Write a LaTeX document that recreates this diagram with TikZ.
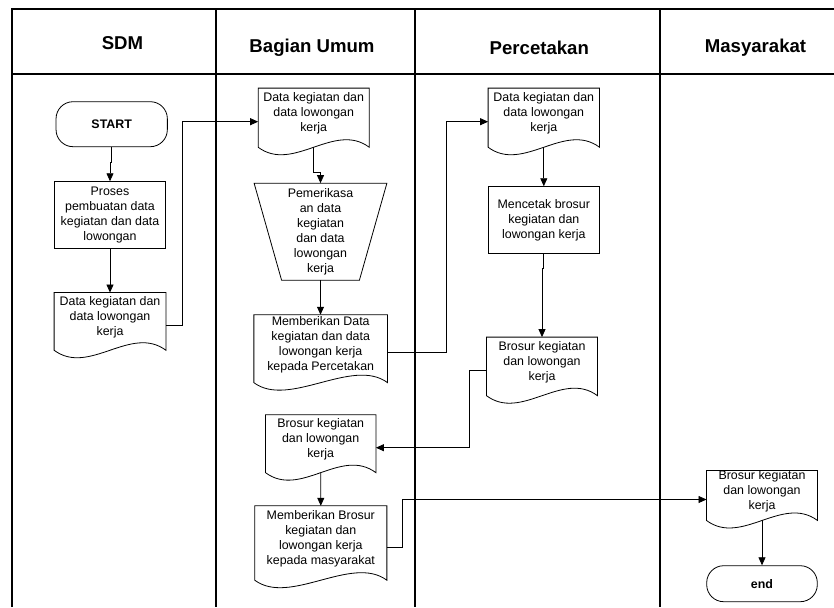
\documentclass[tikz,border=0pt]{standalone}
\usepackage{fontspec}
\setmainfont{Liberation Sans}
\usetikzlibrary{arrows.meta}

\begin{document}
\begin{tikzpicture}[x=1pt,y=-1pt,
	lane/.style={line width=1.8pt},
	hdr/.style={font=\fontsize{18.6}{22}\selectfont\bfseries},
	txt/.style={font=\fontsize{12.4}{15}\selectfont, align=center, inner sep=0pt},
	proc/.style={txt, draw, line width=0.8pt},
	term/.style={txt, draw, line width=0.8pt, rounded corners=17pt, font=\fontsize{12.4}{15}\selectfont\bfseries},
	doc/.style={txt},
	shp/.style={line width=0.8pt},
	arr/.style={line width=0.8pt, -{Triangle[length=8pt,width=7pt]}}]
	\useasboundingbox (0,0) rectangle (834,607);

	% lanes
	\draw[lane] (12,607) -- (12,9) -- (834,9);
	\draw[lane] (12,74) -- (834,74);
	\foreach \x in {216,415,660}
		\draw[lane] (\x,9) -- (\x,607);

	\node[hdr] (hsdm) at (122.5,43) {SDM};
	\node[hdr] (hbu) at (312,48) {Bagian Umum};
	\node[hdr] (hpc) at (539.3,48) {Percetakan};
	\node[hdr] (hms) at (755.5,48) {Masyarakat};

	% SDM
	\node[term, minimum width=111.3pt, minimum height=45pt] (start) at (111.7,124.2) {START};
	\node[proc, minimum width=111.3pt, minimum height=66.7pt] (sd1) at (110,215) {Proses\\pembuatan data\\kegiatan dan data\\lowongan};
	\node[doc, minimum width=111.4pt, minimum height=49.3pt] (sd2) at (110,317.4) {Data kegiatan dan\\data lowongan\\kerja};

	% Bagian Umum
	\node[doc, minimum width=110.7pt, minimum height=50.7pt] (bu1) at (313.7,113.7) {Data kegiatan dan\\data lowongan\\kerja};
	\node[txt, minimum width=132.4pt, minimum height=96.7pt] (bu2) at (320.5,231.7) {Pemerikasa\\an data\\kegiatan\\dan data\\lowongan\\kerja};
	\node[doc, minimum width=133.3pt, minimum height=59.5pt] (bu3) at (320.7,344.7) {Memberikan Data\\kegiatan dan data\\lowongan kerja\\kepada Percetakan};
	\node[doc, minimum width=110pt, minimum height=49.5pt] (bu4) at (320.7,439.7) {Brosur kegiatan\\dan lowongan\\kerja};
	\node[doc, minimum width=131.7pt, minimum height=66pt] (bu5) at (320.8,539) {Memberikan Brosur\\kegiatan dan\\lowongan kerja\\kepada masyarakat};

	% Percetakan
	\node[doc, minimum width=111pt, minimum height=50.7pt] (pc1) at (543.8,113.7) {Data kegiatan dan\\data lowongan\\kerja};
	\node[proc, minimum width=111pt, minimum height=66.7pt] (pc2) at (543.8,220) {Mencetak brosur\\kegiatan dan\\lowongan kerja};
	\node[doc, minimum width=110.6pt, minimum height=50.2pt] (pc3) at (542,362.4) {Brosur kegiatan\\dan lowongan\\kerja};

	% Masyarakat
	\node[doc, minimum width=110.6pt, minimum height=38.4pt] (ms1) at (762,491.5) {Brosur kegiatan\\dan lowongan\\kerja};
	\node[term, minimum width=110.6pt, minimum height=36pt] (stop) at (762,583.7) {end};

	% document and manual operation outlines
	\foreach \n in {sd2,bu1,bu3,bu4,bu5,pc1,pc3,ms1}
		\draw[shp] (\n.north west) -- (\n.north east) -- ([yshift=-8pt]\n.south east)
			.. controls ([xshift=-35pt,yshift=18pt]\n.south east) and ([xshift=35pt,yshift=-34pt]\n.south west) .. ([yshift=-8pt]\n.south west) -- cycle;
	\draw[shp] (bu2.north west) -- (bu2.north east) -- ([xshift=-27.5pt]bu2.south east) -- ([xshift=27.5pt]bu2.south west) -- cycle;

	% flow
	\draw[arr] (start.south) -- ++(0,15) -| (sd1.north);
	\draw[arr] (sd1.south) -- (sd2.north);
	\draw[arr] ([yshift=-8pt]sd2.east) -- ++(16.5,0) |- ([yshift=-8pt]bu1.west);
	\draw[arr] ([yshift=-8pt]bu1.south) -- ++(0,25) -| (bu2.north);
	\draw[arr] (bu2.south) -- (bu2.south |- bu3.north);
	\draw[arr] ([yshift=-8pt]bu3.east) -- ++(58.7,0) |- ([yshift=-8pt]pc1.west);
	\draw[arr] ([yshift=-8pt]pc1.south) -- (pc2.north);
	\draw[arr] (pc2.south) -- ++(0,15) -| (pc3.north);
	\draw[arr] ([yshift=-8pt]pc3.west) -- ++(-16.7,0) |- ([yshift=-8pt]bu4.east);
	\draw[arr] ([yshift=-8pt]bu4.south) -- (bu5.north);
	\draw[arr] ([yshift=-8pt]bu5.east) -- ++(16,0) |- ([yshift=-8pt]ms1.west);
	\draw[arr] ([yshift=-8pt]ms1.south) -- (stop.north);
\end{tikzpicture}
\end{document}
